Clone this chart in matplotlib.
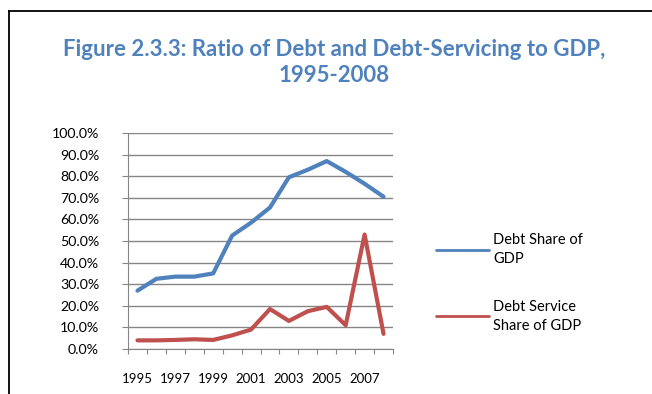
import numpy as np
import matplotlib.pyplot as plt
from matplotlib.lines import Line2D

years = ['1995', '1996', '1997', '1998', '1999', '2000', '2001',
         '2002', '2003', '2004', '2005', '2006', '2007', '2008']
debt_share = [27.0, 32.5, 33.5, 33.5, 35.0, 52.5, 58.5,
              65.5, 79.5, 83.0, 87.0, 82.0, 76.5, 70.5]
debt_service = [4.0, 4.0, 4.2, 4.5, 4.2, 6.3, 9.0,
                18.5, 13.0, 17.5, 19.5, 11.0, 53.0, 7.0]

blue = '#4F81BD'
red = '#C0504D'
grid_col = '#868686'
font = ['Lato', 'DejaVu Sans']

fig = plt.figure(figsize=(6.52, 3.94), dpi=100)

# frame around the chart (left and top edges visible)
fig.add_artist(Line2D([9/652, 9/652], [0, 1 - 11/394], color='black', lw=1.3,
                      transform=fig.transFigure))
fig.add_artist(Line2D([9/652, 1], [1 - 11/394, 1 - 11/394], color='black', lw=1.3,
                      transform=fig.transFigure))

fig.text(0.513, 1 - 49/394, 'Figure 2.3.3: Ratio of Debt and Debt-Servicing to GDP,',
         ha='center', va='center', color=blue, fontsize=16, fontweight='bold', family=font)
fig.text(0.513, 1 - 76/394, '1995-2008',
         ha='center', va='center', color=blue, fontsize=16, fontweight='bold', family=font)

ax = fig.add_axes([128/652, 45/394, 265/652, 216/394])
x = np.arange(len(years))
ax.plot(x, np.array(debt_share) / 100, color=blue, lw=3, solid_capstyle='round',
        solid_joinstyle='round', label='Debt Share of\nGDP')
ax.plot(x, np.array(debt_service) / 100, color=red, lw=3, solid_capstyle='round',
        solid_joinstyle='round', label='Debt Service\nShare of GDP')

ax.set_xlim(-0.5, len(years) - 0.5)
ax.set_ylim(0, 1.0)
ax.set_yticks(np.arange(0, 1.01, 0.1))
ax.set_yticklabels([f'{v * 100:.1f}%' for v in np.arange(0, 1.01, 0.1)], family=font)
ax.yaxis.grid(True, color=grid_col, lw=1)
ax.set_axisbelow(True)

# tick marks sit between categories, labels on every other year
ax.set_xticks(np.arange(-0.5, len(years), 1))
ax.set_xticklabels([])
ax.set_xticks(x[::2], minor=True)
ax.set_xticklabels(years[::2], minor=True, family=font)
ax.tick_params(axis='x', which='major', length=3.5, color=grid_col, direction='out')
ax.tick_params(axis='x', which='minor', length=0, pad=17, labelsize=9.5)
ax.tick_params(axis='y', length=4.3, color=grid_col, labelsize=10.2, pad=16.5)

for side in ['top', 'right']:
    ax.spines[side].set_visible(False)
for side in ['left', 'bottom']:
    ax.spines[side].set_color(grid_col)

leg = fig.legend(loc='upper left', bbox_to_anchor=(423/652, 1 - 220/394),
                 frameon=False, prop={'family': font, 'size': 10.5},
                 handlelength=3.6, handletextpad=0.3, labelspacing=2.3)
for line in leg.get_lines():
    line.set_linewidth(2)
for txt in leg.get_texts():
    txt.set_linespacing(1.45)

fig.savefig('out.png', dpi=100)
